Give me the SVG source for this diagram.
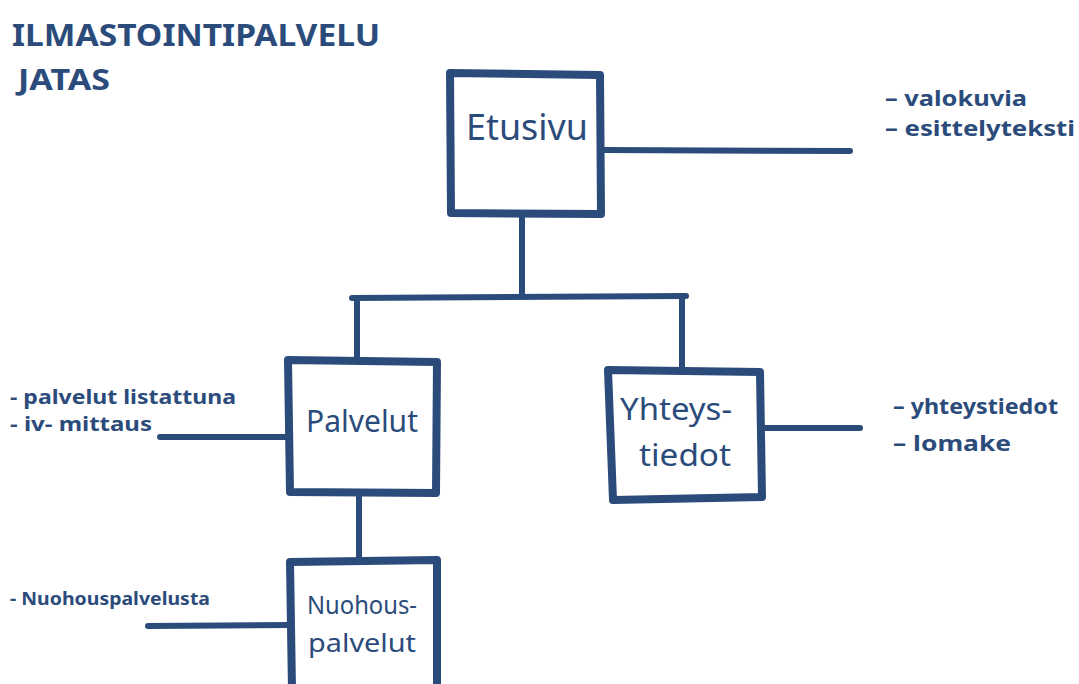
<svg xmlns="http://www.w3.org/2000/svg" width="1079" height="684" viewBox="0 0 1079 684">
<style>
.bx{fill:none;stroke:#2b4b7b;stroke-width:8;stroke-linejoin:round}
.ln{fill:none;stroke:#2b4b7b;stroke-width:6;stroke-linecap:round}
.t{fill:#2b4b7b;font-family:"Noto Sans","Liberation Sans",sans-serif;font-weight:bold}
.n{fill:#2b4b7b;font-family:"Noto Sans","Liberation Sans",sans-serif}
</style>
<rect width="1079" height="684" fill="#ffffff"/>
<g id="title">
<text class="t" x="12" y="46" font-size="30" textLength="368" lengthAdjust="spacingAndGlyphs">ILMASTOINTIPALVELU</text>
<text class="t" x="18" y="90" font-size="28" textLength="92" lengthAdjust="spacingAndGlyphs">JATAS</text>
</g>
<g id="connectors">
<path class="ln" d="M602 150 L850 151"/>
<path class="ln" d="M522 215 L522 295"/>
<path class="ln" d="M352 298 L686 296"/>
<path class="ln" d="M357 298 L357 360"/>
<path class="ln" d="M682 298 L682 370"/>
<path class="ln" d="M160 437 L288 437"/>
<path class="ln" d="M764 428 L860 428"/>
<path class="ln" d="M359 493 L359 560"/>
<path class="ln" d="M148 626 L290 625"/>
</g>
<g id="etusivu">
<path class="bx" d="M450 73 L600 75 L601 214 L451 213 Z"/>
<text class="n" x="527" y="140" font-size="36" text-anchor="middle" textLength="122" lengthAdjust="spacingAndGlyphs">Etusivu</text>
</g>
<g id="etusivu-notes">
<text class="t" x="885" y="106" font-size="22" textLength="142" lengthAdjust="spacingAndGlyphs">– valokuvia</text>
<text class="t" x="885" y="136" font-size="22" textLength="190" lengthAdjust="spacingAndGlyphs">– esittelyteksti</text>
</g>
<g id="palvelut">
<path class="bx" d="M288 360 L437 362 L436 493 L290 492 Z"/>
<text class="n" x="362" y="432" font-size="30" text-anchor="middle" textLength="112" lengthAdjust="spacingAndGlyphs">Palvelut</text>
</g>
<g id="palvelut-notes">
<text class="t" x="10" y="404" font-size="20" textLength="226" lengthAdjust="spacingAndGlyphs">- palvelut listattuna</text>
<text class="t" x="10" y="431" font-size="20" textLength="142" lengthAdjust="spacingAndGlyphs">- iv- mittaus</text>
</g>
<g id="yhteystiedot">
<path class="bx" d="M608 370 L760 372 L762 497 L613 500 Z"/>
<text class="n" x="676" y="420" font-size="30" text-anchor="middle" textLength="112" lengthAdjust="spacingAndGlyphs">Yhteys-</text>
<text class="n" x="685" y="466" font-size="30" text-anchor="middle" textLength="92" lengthAdjust="spacingAndGlyphs">tiedot</text>
</g>
<g id="yhteystiedot-notes">
<text class="t" x="893" y="414" font-size="22" textLength="165" lengthAdjust="spacingAndGlyphs">– yhteystiedot</text>
<text class="t" x="893" y="451" font-size="22" textLength="118" lengthAdjust="spacingAndGlyphs">– lomake</text>
</g>
<g id="nuohous">
<path class="bx" d="M290 562 L437 560 L437 690 L292 690 Z"/>
<text class="n" x="362" y="614" font-size="25" text-anchor="middle" textLength="110" lengthAdjust="spacingAndGlyphs">Nuohous-</text>
<text class="n" x="362" y="652" font-size="25" text-anchor="middle" textLength="108" lengthAdjust="spacingAndGlyphs">palvelut</text>
</g>
<g id="nuohous-notes">
<text class="t" x="10" y="605" font-size="17" textLength="200" lengthAdjust="spacingAndGlyphs">- Nuohouspalvelusta</text>
</g>
</svg>
